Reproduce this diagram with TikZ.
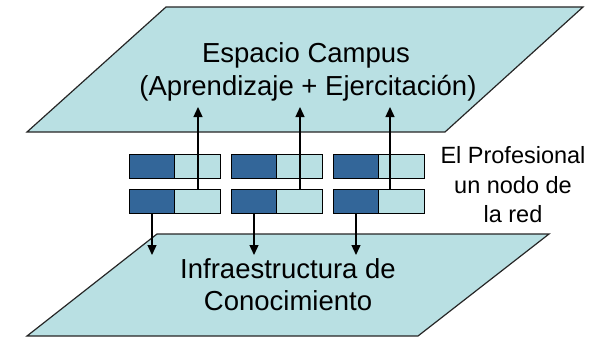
\documentclass[tikz,border=0pt]{standalone}
\usepackage{fontspec}
\setmainfont{Liberation Sans}
\usetikzlibrary{arrows.meta}
\definecolor{lightfill}{RGB}{185,224,227}
\definecolor{darkfill}{RGB}{51,102,153}
\begin{document}
\begin{tikzpicture}[x=1pt,y=-1pt,
 plane/.style={draw=black!85, line width=1.2pt, fill=lightfill, line join=miter},
 bigtxt/.style={font=\fontsize{27.5}{32}\selectfont, anchor=base, inner sep=0pt},
 sidetxt/.style={font=\fontsize{23.5}{29}\selectfont, anchor=base, inner sep=0pt},
 darkhalf/.style={draw=black, line width=1.3pt, fill=darkfill, minimum width=45pt, minimum height=23.5pt, inner sep=0pt, anchor=north west},
 lighthalf/.style={draw=black, line width=1.3pt, fill=lightfill, minimum width=46pt, minimum height=23.5pt, inner sep=0pt, anchor=north west},
 link/.style={line width=1.3pt, -{Triangle[width=9pt,length=10pt]}}
]
\useasboundingbox (0,0) rectangle (604,337);
% planes
\draw[plane] (166,7) -- (583,7) -- (445,132) -- (27,132) -- cycle;
\draw[plane] (157,234) -- (549,234) -- (418,336) -- (27,336) -- cycle;
% texts
\node[bigtxt] (t1) at (306,63) {Espacio Campus};
\node[bigtxt] (t2) at (308,95) {(Aprendizaje + Ejercitación)};
\node[bigtxt] (b1) at (288,278) {Infraestructura de};
\node[bigtxt] (b2) at (288,310) {Conocimiento};
\node[sidetxt] (s1) at (513,163) {El Profesional};
\node[sidetxt] (s2) at (513,193) {un nodo de};
\node[sidetxt] (s3) at (513,222) {la red};
% boxes row 1
\node[darkhalf] (a1d) at (129,154) {};
\node[lighthalf] (a1l) at (174,154) {};
\node[darkhalf] (a2d) at (231,154) {};
\node[lighthalf] (a2l) at (276,154) {};
\node[darkhalf] (a3d) at (333,154) {};
\node[lighthalf] (a3l) at (378,154) {};
% boxes row 2
\node[darkhalf] (c1d) at (129,189) {};
\node[lighthalf] (c1l) at (174,189) {};
\node[darkhalf] (c2d) at (231,189) {};
\node[lighthalf] (c2l) at (276,189) {};
\node[darkhalf] (c3d) at (333,189) {};
\node[lighthalf] (c3l) at (378,189) {};
% arrow ends
\coordinate (u1) at (198,107);
\coordinate (u2) at (300,107);
\coordinate (u3) at (390,107);
\coordinate (d1) at (152,255);
\coordinate (d2) at (254,255);
\coordinate (d3) at (356,255);
\draw[link] (u1 |- c1l.north) -- (u1);
\draw[link] (u2 |- c2l.north) -- (u2);
\draw[link] (u3 |- c3l.north) -- (u3);
\draw[link] (d1 |- c1d.south) -- (d1);
\draw[link] (d2 |- c2d.south) -- (d2);
\draw[link] (d3 |- c3d.south) -- (d3);
\end{tikzpicture}
\end{document}
